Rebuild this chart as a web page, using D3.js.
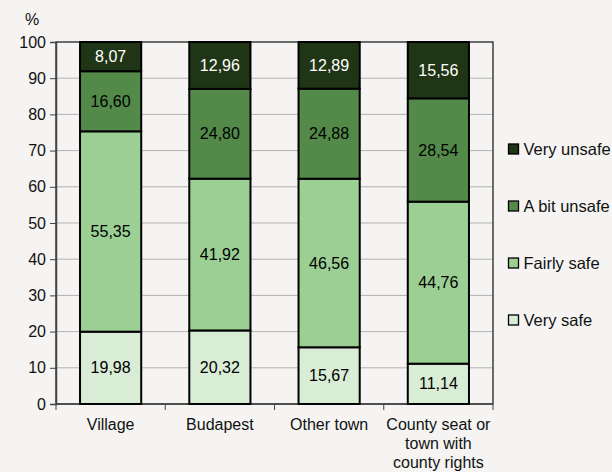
<!DOCTYPE html>
<html>
<head>
<meta charset="utf-8">
<script src="https://cdn.jsdelivr.net/npm/d3@7"></script>
<style>
  body { margin: 0; background: #f5f4f2; overflow: hidden; }
  svg { display: block; font-family: "Liberation Sans", Arial, sans-serif; }
</style>
</head>
<body>
<svg width="612" height="472"></svg>
<script>
var categories = ["Village", "Budapest", "Other town", "County seat or town with county rights"];
var categoryLines = [["Village"], ["Budapest"], ["Other town"], ["County seat or", "town with", "county rights"]];
var seriesNames = ["Very safe", "Fairly safe", "A bit unsafe", "Very unsafe"];
var verySafe = [19.98, 20.32, 15.67, 11.14];
var fairlySafe = [55.35, 41.92, 46.56, 44.76];
var aBitUnsafe = [16.60, 24.80, 24.88, 28.54];
var veryUnsafe = [8.07, 12.96, 12.89, 15.56];
var yTicks = [0, 10, 20, 30, 40, 50, 60, 70, 80, 90, 100];

var colors = ["#d9ecd6", "#9bcf93", "#538a4a", "#1f3515"];
var labelColors = ["#000", "#000", "#000", "#fff"];
var fs = 16;

var svg = d3.select("svg"),
    margin = {top: 42, right: 119, bottom: 68, left: 56},
    width = +svg.attr("width") - margin.left - margin.right,
    height = +svg.attr("height") - margin.top - margin.bottom;

var table = categories.map(function(c, i) {
  return {cat: c, "Very safe": verySafe[i], "Fairly safe": fairlySafe[i],
          "A bit unsafe": aBitUnsafe[i], "Very unsafe": veryUnsafe[i]};
});
var stacked = d3.stack().keys(seriesNames)(table);

var x = d3.scaleBand().domain(categories).range([0, width]).paddingInner(0.44).paddingOuter(0.22);
var xOuter = d3.scaleBand().domain(categories).range([0, width]);
var y = d3.scaleLinear().domain([0, 100]).range([height, 0]);

var g = svg.append("g").attr("transform", "translate(" + margin.left + "," + margin.top + ")");

// gridlines
g.selectAll(".grid").data(yTicks.slice(1, -1)).enter().append("line")
  .attr("x1", 0).attr("x2", width)
  .attr("y1", function(d) { return y(d); }).attr("y2", function(d) { return y(d); })
  .attr("stroke", "#b3b3b3").attr("stroke-width", 1);

// plot frame
g.append("rect").attr("width", width).attr("height", height)
  .attr("fill", "none").attr("stroke", "#222").attr("stroke-width", 1.3);

// y axis
var yAxis = g.append("g").call(d3.axisLeft(y).tickValues(yTicks).tickSize(6).tickPadding(4));
yAxis.select(".domain").attr("stroke", "#444").attr("stroke-width", 1.5);
yAxis.selectAll(".tick line").attr("stroke", "#444");
yAxis.selectAll("text").attr("font-size", fs).attr("fill", "#111")
  .attr("font-family", "Liberation Sans, Arial, sans-serif");

svg.append("text").attr("x", 32).attr("y", 25).attr("text-anchor", "middle")
  .attr("font-size", fs).attr("fill", "#111").text("%");

// x axis
var xAxisG = g.append("g").attr("transform", "translate(0," + height + ")");
xAxisG.append("line").attr("x1", 0).attr("x2", width).attr("stroke", "#444").attr("stroke-width", 1.5);
xAxisG.selectAll(".xt").data(d3.range(categories.length + 1)).enter().append("line")
  .attr("x1", function(i) { return i * xOuter.step(); })
  .attr("x2", function(i) { return i * xOuter.step(); })
  .attr("y1", 0).attr("y2", 6).attr("stroke", "#444");
var xl = xAxisG.selectAll(".xl").data(categories).enter().append("text")
  .attr("text-anchor", "middle").attr("font-size", fs).attr("fill", "#111")
  .attr("transform", function(d) { return "translate(" + (x(d) + x.bandwidth() / 2) + ",26)"; });
xl.each(function(d, i) {
  d3.select(this).selectAll("tspan").data(categoryLines[i]).enter().append("tspan")
    .attr("x", 0).attr("dy", function(t, j) { return j === 0 ? 0 : 19; }).text(function(t) { return t; });
});

// bars
var layers = g.selectAll(".layer").data(stacked).enter().append("g")
  .attr("fill", function(d, i) { return colors[i]; });
layers.selectAll("rect").data(function(d) { return d; }).enter().append("rect")
  .attr("x", function(d) { return x(d.data.cat); })
  .attr("width", x.bandwidth())
  .attr("y", function(d) { return y(d[1]); })
  .attr("height", function(d) { return y(d[0]) - y(d[1]); })
  .attr("stroke", "#000").attr("stroke-width", 2);

layers.each(function(s, i) {
  d3.select(this).selectAll("text").data(s).enter().append("text")
    .attr("x", function(d) { return x(d.data.cat) + x.bandwidth() / 2; })
    .attr("y", function(d) { return y((d[0] + d[1]) / 2); })
    .attr("dy", "0.35em").attr("text-anchor", "middle")
    .attr("font-size", fs).attr("fill", labelColors[i])
    .text(function(d) { return d3.format(".2f")(d[1] - d[0]).replace(".", ","); });
});

// legend
var legendItems = seriesNames.slice().reverse();
var legend = svg.append("g").attr("transform", "translate(508,149)");
var li = legend.selectAll(".li").data(legendItems).enter().append("g")
  .attr("transform", function(d, i) { return "translate(0," + (i * 57) + ")"; });
li.append("rect").attr("x", 0.5).attr("y", -5).attr("width", 10).attr("height", 10)
  .attr("fill", function(d) { return colors[seriesNames.indexOf(d)]; })
  .attr("stroke", "#000").attr("stroke-width", 1.3);
li.append("text").attr("x", 15.5).attr("dy", "0.35em").attr("font-size", 16.5).attr("fill", "#111")
  .text(function(d) { return d; });
</script>
</body>
</html>
